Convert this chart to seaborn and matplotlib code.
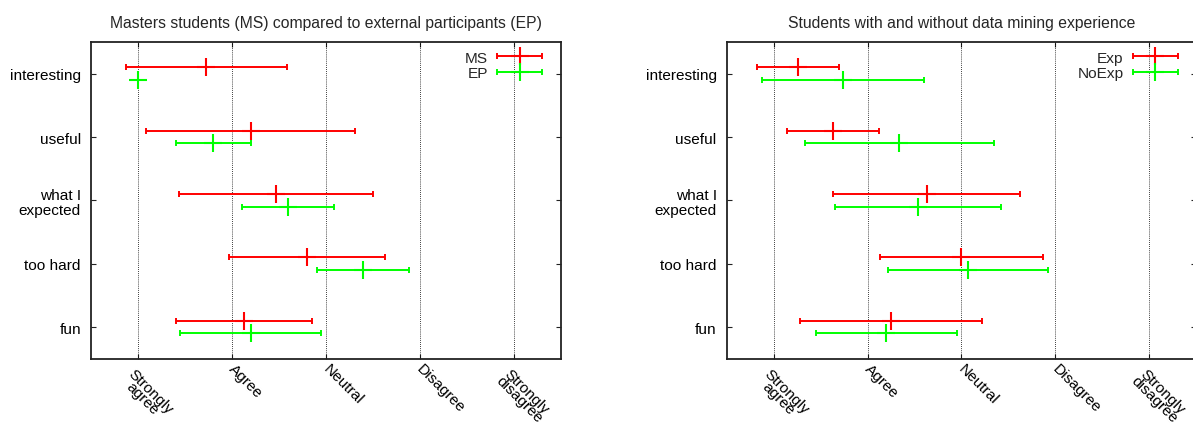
import numpy as np
import pandas as pd
import matplotlib
matplotlib.use("Agg")
import matplotlib.pyplot as plt
import matplotlib.transforms as mtrans
from matplotlib.lines import Line2D
from matplotlib.container import ErrorbarContainer
from matplotlib.legend_handler import HandlerErrorbar, HandlerTuple
import seaborn as sns

# ---------------- data ----------------
categories = ["interesting", "useful", "what I\nexpected", "too hard", "fun"]
scale_labels = ["Strongly\nagree", "Agree", "Neutral", "Disagree", "Strongly\ndisagree"]
scale_values = [1, 2, 3, 4, 5]

title_left = "Masters students (MS) compared to external participants (EP)"
title_right = "Students with and without data mining experience"

ms_mean = [1.73, 2.20, 2.47, 2.80, 2.13]
ms_err = [0.855, 1.11, 1.03, 0.835, 0.72]
ep_mean = [1.00, 1.80, 2.60, 3.40, 2.20]
ep_err = [0.00, 0.40, 0.49, 0.49, 0.75]

exp_mean = [1.26, 1.63, 2.63, 3.00, 2.25]
exp_err = [0.44, 0.49, 0.995, 0.87, 0.97]
noexp_mean = [1.74, 2.34, 2.54, 3.07, 2.20]
noexp_err = [0.86, 1.01, 0.885, 0.855, 0.75]

RED = "#ff0000"
GREEN = "#00ff00"

sns.set_theme(style="white")
plt.rcParams["font.family"] = ["Liberation Sans", "DejaVu Sans"]
plt.rcParams["font.size"] = 11.1

FS = 11.1

fig = plt.figure(figsize=(11.93, 4.27), dpi=100)
W, H = 1193, 427
ax1 = fig.add_axes([91 / W, (H - 359.7) / H, 469.5 / W, 316.7 / H])
ax2 = fig.add_axes([726.7 / W, (H - 359.7) / H, 469.5 / W, 316.7 / H])

panels = [
    (ax1, title_left, [("MS", ms_mean, ms_err, RED, -0.1), ("EP", ep_mean, ep_err, GREEN, 0.1)]),
    (ax2, title_right, [("Exp", exp_mean, exp_err, RED, -0.1), ("NoExp", noexp_mean, noexp_err, GREEN, 0.1)]),
]

ypos = np.arange(len(categories))

for ax, title, series in panels:
    handles = []
    for name, mean, err, color, off in series:
        y = ypos + off
        cont = ax.errorbar(mean, y, xerr=err, fmt="none", ecolor=color,
                           elinewidth=1.4, capsize=2.5, capthick=1.4, zorder=3)
        df = pd.DataFrame({"mean": mean, "y": y})
        sns.scatterplot(data=df, x="mean", y="y", ax=ax, marker="+", s=170,
                        color=color, linewidth=1.5, zorder=4, legend=False)
        mk = Line2D([], [], linestyle="none", marker="+", markersize=13,
                    markeredgewidth=1.5, color=color)
        handles.append(((cont, mk), name))

    ax.set_xlim(0.5, 5.5)
    ax.set_ylim(len(categories) - 0.5, -0.5)
    ax.set_xlabel("")
    ax.set_ylabel("")

    ax.tick_params(axis="x", direction="in", length=3.6, width=0.8, pad=6.2,
                   top=True, bottom=True, colors="#222222", labelcolor="black")
    ax.tick_params(axis="y", direction="in", length=3.6, width=0.8, pad=7.2,
                   left=True, right=True, colors="#222222", labelcolor="black")

    ax.set_yticks(ypos)
    ax.set_yticklabels(categories, fontsize=FS, linespacing=1.07,
                       multialignment="right")
    ax.set_xticks(scale_values)
    ax.set_xticklabels(scale_labels, fontsize=FS, rotation=-45, ha="left",
                       va="baseline", rotation_mode="anchor",
                       multialignment="center", linespacing=0.72)
    for lab in ax.get_xticklabels():
        if "\n" in lab.get_text():
            dx, dy = -20.5, -16.0
        else:
            dx, dy = -3.5, -2.0
        lab.set_transform(lab.get_transform() +
                          mtrans.ScaledTranslation(dx / 100, dy / 100, fig.dpi_scale_trans))

    ax.grid(False)
    for xv in scale_values:
        ax.axvline(xv, color="black", linestyle=(0, (1, 1.5)), linewidth=0.6, zorder=1)

    for sp in ax.spines.values():
        sp.set_color("#222222")
        sp.set_linewidth(1.3)
        sp.set_visible(True)

    ax.set_title(title, fontsize=11.3, pad=11)

    leg = ax.legend([h for h, _ in handles], [n for _, n in handles],
                    handler_map={ErrorbarContainer: HandlerErrorbar(xerr_size=1.45),
                                 tuple: HandlerTuple(ndivide=1)},
                    loc="upper right", bbox_to_anchor=(1 - 18.5 / 469.5, 1 - 8.7 / 316.7),
                    borderaxespad=0, borderpad=0, frameon=False, markerfirst=False,
                    handlelength=2.9, handletextpad=0.6, labelspacing=0.115,
                    fontsize=FS)

fig.savefig("out.png", dpi=100)
